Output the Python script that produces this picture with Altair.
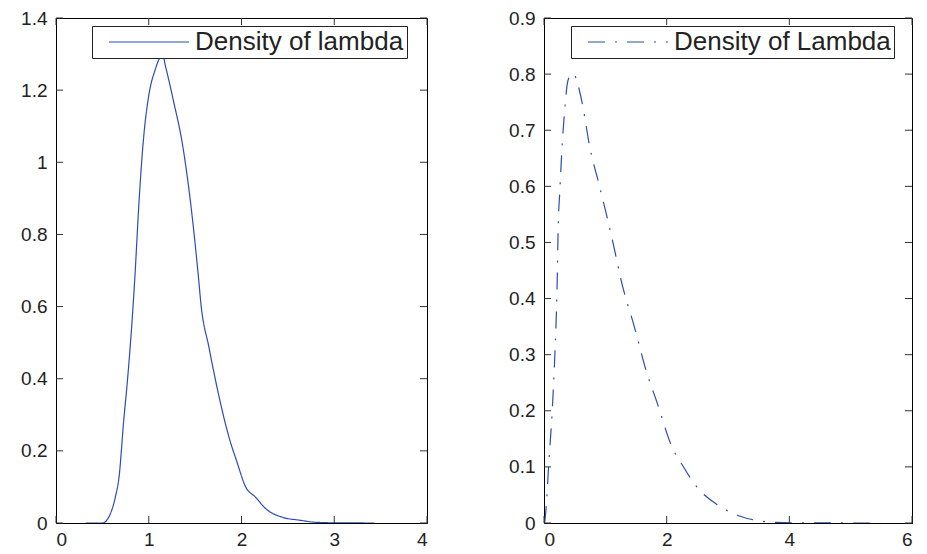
import altair as alt
import pandas as pd

# ---- data ----
lam_x = [0.32, 0.50, 0.57, 0.64, 0.68, 0.73, 0.77, 0.82, 0.85, 0.895, 0.94, 1.00, 1.07, 1.12,
         1.15, 1.18, 1.27, 1.36, 1.45, 1.54, 1.56, 1.65, 1.76, 1.865, 1.95, 2.045, 2.15, 2.26,
         2.44, 2.62, 2.80, 3.00, 3.43]
lam_y = [0.0, 0.0, 0.017, 0.072, 0.128, 0.284, 0.394, 0.56, 0.68, 0.89, 1.055, 1.185, 1.257, 1.29,
         1.297, 1.267, 1.166, 1.055, 0.89, 0.67, 0.614, 0.486, 0.348, 0.238, 0.17, 0.10, 0.072, 0.04,
         0.016, 0.008, 0.002, 0.0005, 0.0]

Lam_x = [0.01, 0.03, 0.08, 0.134, 0.177, 0.215, 0.23, 0.26, 0.30, 0.34, 0.376, 0.42, 0.457, 0.50,
         0.54, 0.62, 0.75, 0.887, 1.02, 1.156, 1.25, 1.48, 1.67, 1.855, 2.07, 2.285, 2.5, 2.82,
         3.2, 3.52, 3.79, 4.2, 5.48]
Lam_y = [0.0, 0.021, 0.11, 0.2, 0.30, 0.43, 0.52, 0.596, 0.68, 0.739, 0.78, 0.797, 0.801, 0.798,
         0.786, 0.75, 0.668, 0.608, 0.549, 0.484, 0.436, 0.347, 0.27, 0.211, 0.14, 0.098, 0.063, 0.033,
         0.012, 0.0036, 0.001, 0.0002, 0.0]

left_name = "Density of lambda"
right_name = "Density of Lambda"

left_xticks = [0, 1, 2, 3, 4]
left_yticks = [0, 0.2, 0.4, 0.6, 0.8, 1, 1.2, 1.4]
right_xticks = [0, 2, 4, 6]
right_yticks = [0, 0.1, 0.2, 0.3, 0.4, 0.5, 0.6, 0.7, 0.8, 0.9]

BLUE = "#2a4db5"
FONT = "Liberation Sans"
TXT = "#222222"
TICK = "#333333"


def panel(xs_, ys_, name, dash, xmax, ymax, xt, yt, lx, ly, w, h):
    df = pd.DataFrame({"x": xs_, "y": ys_, "name": name})
    xs = alt.Scale(domain=[0, xmax], nice=False, zero=False)
    ys = alt.Scale(domain=[0, ymax], nice=False, zero=False)
    # long horizontal legend sample drawn as a custom path (keeps the row short)
    leg = alt.Legend(
        title=None, orient="none", legendX=lx, legendY=ly,
        symbolType="M-8,0H8", symbolSize=100, symbolStrokeWidth=1.2,
        symbolFillColor="transparent",
        labelFont=FONT, labelFontSize=26, labelColor=TXT, labelLimit=600,
        strokeColor="#222222", fillColor="white", padding=3,
        symbolOffset=41, labelOffset=33,
    )
    line = alt.Chart(df).mark_line(strokeWidth=1.2, clip=True, interpolate="monotone").encode(
        x=alt.X("x:Q", scale=xs, title=None,
                axis=alt.Axis(values=xt, labelPadding=7, format="~g")),
        y=alt.Y("y:Q", scale=ys, title=None,
                axis=alt.Axis(values=yt, labelPadding=9, format="~g")),
        color=alt.Color("name:N", scale=alt.Scale(domain=[name], range=[BLUE]), legend=leg),
        strokeDash=alt.StrokeDash("name:N", scale=alt.Scale(domain=[name], range=[dash]), legend=leg),
    )
    xdf = pd.DataFrame({"v": xt})
    ydf = pd.DataFrame({"v": yt})
    bottom = alt.Chart(xdf).mark_rule(color=TICK, strokeWidth=1, y2Offset=-7).encode(
        x=alt.X("v:Q", title=None), y=alt.YDatum(0, title=None), y2=alt.Y2Datum(0))
    top = alt.Chart(xdf).mark_rule(color=TICK, strokeWidth=1, y2Offset=7).encode(
        x=alt.X("v:Q", title=None), y=alt.YDatum(ymax, title=None), y2=alt.Y2Datum(ymax))
    left = alt.Chart(ydf).mark_rule(color=TICK, strokeWidth=1, x2Offset=7).encode(
        y=alt.Y("v:Q", title=None), x=alt.XDatum(0, title=None), x2=alt.X2Datum(0))
    right = alt.Chart(ydf).mark_rule(color=TICK, strokeWidth=1, x2Offset=-7).encode(
        y=alt.Y("v:Q", title=None), x=alt.XDatum(xmax, title=None), x2=alt.X2Datum(xmax))
    return alt.layer(line, bottom, top, left, right).properties(width=w, height=h)


p1 = panel(lam_x, lam_y, left_name, [1, 0], 4, 1.4, left_xticks, left_yticks, 36, 8, 371, 505)
p2 = panel(Lam_x, Lam_y, right_name, [17, 10, 2, 10], 6, 0.9, right_xticks, right_yticks, 27, 8, 368, 505)

chart = alt.hconcat(p1, p2, spacing=80).resolve_scale(
    x="independent", y="independent", color="independent", strokeDash="independent"
).resolve_legend(color="independent", strokeDash="independent").properties(
    padding={"left": 12, "top": 0, "right": 0, "bottom": 0}, background="white"
).configure_axis(
    grid=False, ticks=False, domainColor="black", domainWidth=1,
    labelFont=FONT, labelFontSize=19, labelColor=TXT,
).configure_view(stroke="black", strokeWidth=1)

chart.save("out.html", embed_options={"renderer": "svg", "actions": False})
